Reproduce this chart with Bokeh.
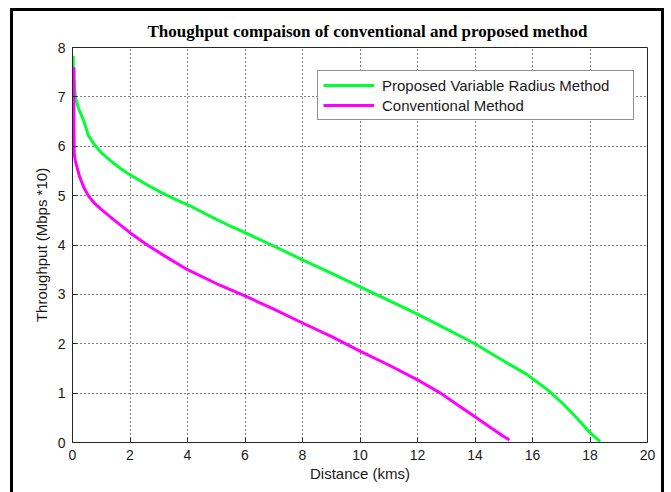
from bokeh.plotting import figure
from bokeh.models import FixedTicker, Legend, LegendItem, Range1d
from bokeh.embed import file_html
from bokeh.resources import INLINE

# Throughput vs distance
dist_proposed = [0.02, 0.03, 0.06, 0.1, 0.2, 0.39, 0.55, 0.74, 1.0, 1.32, 1.6,
                 1.9, 2.5, 3.06, 3.6, 4.2, 4.9, 5.5, 6.0, 7.0, 8.0, 9.0, 10.0,
                 11.0, 12.0, 13.0, 14.0, 15.0, 15.8, 16.5, 17.0, 17.5, 18.0, 18.35]
thr_proposed = [7.83, 7.6, 7.3, 7.0, 6.78, 6.52, 6.22, 6.05, 5.87, 5.71, 5.58,
                5.46, 5.25, 5.07, 4.92, 4.76, 4.55, 4.38, 4.25, 3.98, 3.7, 3.43,
                3.15, 2.88, 2.6, 2.3, 2.0, 1.65, 1.38, 1.08, 0.82, 0.52, 0.2, 0.02]

dist_conv = [0.05, 0.05, 0.06, 0.1, 0.16, 0.25, 0.39, 0.55, 0.74, 1.0, 1.44,
             2.0, 2.6, 3.2, 4.0, 5.0, 6.0, 7.0, 8.0, 9.0, 10.0, 11.0, 12.0,
             12.8, 13.5, 14.0, 14.5, 15.0, 15.2]
thr_conv = [7.6, 6.5, 5.85, 5.7, 5.57, 5.38, 5.17, 5.0, 4.86, 4.72, 4.51,
            4.25, 4.0, 3.78, 3.5, 3.22, 2.97, 2.7, 2.42, 2.15, 1.85, 1.57, 1.27,
            1.0, 0.72, 0.52, 0.32, 0.12, 0.05]

x_ticks = [0, 2, 4, 6, 8, 10, 12, 14, 16, 18, 20]
y_ticks = [0, 1, 2, 3, 4, 5, 6, 7, 8]

title_text = "Thoughput compaison of conventional and proposed method"
x_label = "Distance (kms)"
y_label = "Throughput (Mbps *10)"
label_proposed = "Proposed Variable Radius Method"
label_conv = "Conventional Method"

SANS = "Liberation Sans"
FRAME = "#262626"

# canvas sits inside a heavy black frame (left, top and right sides)
p = figure(width=654, height=484, output_backend="svg", toolbar_location=None,
           x_range=Range1d(0, 20), y_range=Range1d(0, 8),
           min_border_left=59, min_border_right=20,
           min_border_top=36, min_border_bottom=53,
           background_fill_color="white", border_fill_color="white",
           x_axis_label=x_label, y_axis_label=y_label)
p.margin = (8, 0, 0, 10)
p.styles = {"border-left": "3px solid black",
            "border-top": "3px solid black",
            "border-right": "3px solid black"}

p.title.text = title_text
p.title.text_font = "Liberation Serif"
p.title.text_font_style = "bold"
p.title.text_font_size = "17px"
p.title.align = "left"
p.title.offset = 75
p.title.standoff = 13
p.title.text_color = "black"

p.outline_line_color = FRAME
p.outline_line_width = 1
p.outline_line_alpha = 1

p.xaxis.ticker = FixedTicker(ticks=x_ticks)
p.yaxis.ticker = FixedTicker(ticks=y_ticks)

for ax in p.axis:
    ax.major_tick_in = 5
    ax.major_tick_out = 0
    ax.minor_tick_line_color = None
    ax.axis_line_color = FRAME
    ax.major_tick_line_color = FRAME
    ax.major_label_text_font = SANS
    ax.major_label_text_font_size = "14px"
    ax.major_label_text_color = "#1a1a1a"
    ax.major_label_standoff = 7
    ax.axis_label_text_font = SANS
    ax.axis_label_text_font_size = "15px"
    ax.axis_label_text_font_style = "normal"
    ax.axis_label_text_color = "#1a1a1a"
p.xaxis.axis_label_standoff = 2
p.yaxis.axis_label_standoff = 5

p.xgrid.ticker = FixedTicker(ticks=x_ticks)
p.ygrid.ticker = FixedTicker(ticks=y_ticks)
for g in (p.xgrid, p.ygrid):
    g.grid_line_color = "black"
    g.grid_line_dash = "1 3"
    g.grid_line_width = 1
    g.grid_line_alpha = 1

r1 = p.line(dist_proposed, thr_proposed, line_color="#00ff33", line_width=3)
r2 = p.line(dist_conv, thr_conv, line_color="#ff00ff", line_width=3)

legend = Legend(items=[LegendItem(label=label_proposed, renderers=[r1]),
                       LegendItem(label=label_conv, renderers=[r2])],
                location=(245, 322))
legend.padding = 5
legend.spacing = 2
legend.glyph_width = 51
legend.glyph_height = 18
legend.label_height = 18
legend.label_width = 246
legend.label_standoff = 8
legend.label_text_font = SANS
legend.label_text_font_size = "15px"
legend.label_text_color = "#1a1a1a"
legend.border_line_color = FRAME
legend.border_line_width = 1
legend.background_fill_color = "white"
legend.background_fill_alpha = 1
legend.margin = 0
p.add_layout(legend, "center")

open("out.html", "w").write(file_html(p, INLINE))
